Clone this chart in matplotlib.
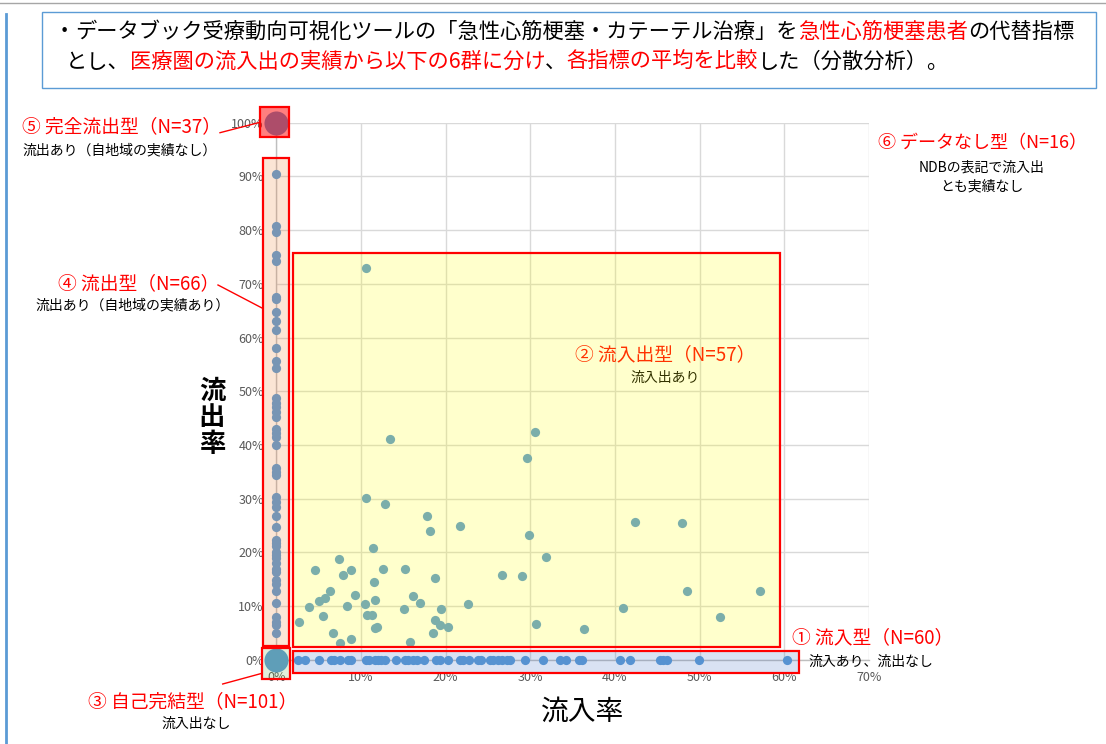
import matplotlib
matplotlib.use("Agg")
import matplotlib.pyplot as plt
from matplotlib.patches import Rectangle
from matplotlib.lines import Line2D
from matplotlib.ticker import PercentFormatter

plt.rcParams['font.family'] = ['Noto Sans CJK JP', 'DejaVu Sans']

# ---------------- data ----------------
# ① 流入型: inflow rate, outflow = 0
inflow_only_x = [2.6, 3.4, 5.1, 6.5, 6.8, 7.5, 8.5, 8.8, 10.6, 10.9, 11.7, 12.0, 12.4, 12.8,
                 14.1, 15.2, 15.6, 16.2, 16.6, 17.4, 18.9, 19.3, 20.3, 21.7, 22.1, 22.7, 23.8,
                 24.2, 25.2, 25.6, 26.2, 26.6, 27.2, 27.6, 29.4, 31.5, 33.5, 34.2, 35.7, 36.1,
                 40.6, 41.8, 45.3, 45.7, 46.2, 49.9, 60.3]
# ④ 流出型: inflow = 0, outflow rate
outflow_only_y = [90.4, 80.8, 79.7, 75.4, 74.3, 67.6, 67.1, 64.7, 63.0, 61.4, 58.0, 55.7, 54.3,
                  48.7, 47.9, 47.1, 46.2, 45.3, 42.9, 42.2, 41.4, 40.0, 35.7, 35.0, 34.4, 30.4,
                  29.4, 28.5, 26.8, 24.8, 22.3, 21.7, 21.1, 20.1, 19.5, 18.9, 18.0, 17.0, 16.4,
                  14.9, 14.2, 12.9, 10.6, 8.0, 7.1, 6.5, 4.9]
# ② 流入出型: inflow & outflow
both_x = [10.6, 12.8, 17.8, 21.7, 18.2, 29.8, 11.4, 31.8, 7.4, 4.6, 8.8, 12.6, 15.2, 7.9, 18.7,
          26.6, 29.0, 11.5, 6.3, 5.8, 5.0, 9.3, 16.2, 17.0, 11.6, 10.5, 8.4, 3.9, 15.1, 19.5,
          22.6, 5.5, 10.7, 11.3, 2.7, 18.7, 19.3, 20.3, 30.7, 11.9, 11.7, 6.7, 18.5, 8.8, 7.5,
          15.8, 13.4, 30.6, 29.6, 10.6, 42.4, 47.9, 48.5, 57.1, 41.0, 52.4, 36.3]
both_y = [30.1, 29.1, 26.8, 24.9, 24.0, 23.2, 20.8, 19.1, 18.7, 16.7, 16.7, 16.9, 16.9, 15.8, 15.3,
          15.8, 15.6, 14.4, 12.9, 11.5, 11.0, 12.0, 11.8, 10.6, 11.1, 10.4, 10.1, 9.8, 9.5, 9.5,
          10.4, 8.1, 8.3, 8.3, 7.0, 7.4, 6.4, 6.2, 6.7, 6.2, 5.9, 4.9, 4.9, 3.8, 3.1,
          3.4, 41.1, 42.4, 37.6, 72.9, 25.7, 25.4, 12.9, 12.9, 9.6, 8.0, 5.7]
# ③ 自己完結型 (0,0) and ⑤ 完全流出型 (0,100)
self_contained = (0.0, 0.0)
full_outflow = (0.0, 100.0)

x_ticks = [0, 10, 20, 30, 40, 50, 60, 70]
y_ticks = [0, 10, 20, 30, 40, 50, 60, 70, 80, 90, 100]

# ---------------- figure ----------------
W, H = 1106, 744
fig = plt.figure(figsize=(W / 100, H / 100), dpi=100)
renderer = fig.canvas.get_renderer()


def fx(x):
    return x / W


def fy(y):
    return 1 - y / H


ax = fig.add_axes([fx(276.3), fy(659.8), (869 - 276.3) / W, (659.8 - 122.8) / H])
ax.set_xlim(0, 70)
ax.set_ylim(0, 100)
ax.set_xticks(x_ticks)
ax.set_yticks(y_ticks)
ax.xaxis.set_major_formatter(PercentFormatter(decimals=0))
ax.yaxis.set_major_formatter(PercentFormatter(decimals=0))
ax.tick_params(length=0, labelsize=9, labelcolor='#595959')
ax.tick_params(axis='y', pad=9)
ax.tick_params(axis='x', pad=8)
ax.grid(True, color='#d9d9d9', linewidth=1)
ax.set_axisbelow(True)
for s in ['top', 'right']:
    ax.spines[s].set_visible(False)
for s in ['left', 'bottom']:
    ax.spines[s].set_color('#bfbfbf')
    ax.spines[s].set_linewidth(1)

blue = '#5b9bd5'
ax.scatter(inflow_only_x, [0] * len(inflow_only_x), s=44, color=blue, linewidths=0, zorder=3, clip_on=False)
ax.scatter([0] * len(outflow_only_y), outflow_only_y, s=44, color=blue, linewidths=0, zorder=3, clip_on=False)
ax.scatter(both_x, both_y, s=44, color=blue, linewidths=0, zorder=3, clip_on=False)
ax.scatter([self_contained[0]], [self_contained[1]], s=300, color=blue, linewidths=0, zorder=3, clip_on=False)
ax.scatter([full_outflow[0]], [full_outflow[1]], s=300, color=blue, linewidths=0, zorder=3, clip_on=False)

# ② label under the overlay
ax.text(fx(665), fy(355), '② 流入出型（N=57）', transform=fig.transFigure, color='#ff0000',
        fontsize=13.5, ha='center', va='center', zorder=4)
ax.text(fx(665), fy(378), '流入出あり', transform=fig.transFigure, color='#000000',
        fontsize=10, ha='center', va='center', zorder=4)


# overlay boxes (pixel coords: x0, y0, x1, y1)
def box(x0, y0, x1, y1, face, alpha):
    r = Rectangle((fx(x0), fy(y1)), fx(x1) - fx(x0), fy(y0) - fy(y1), transform=fig.transFigure,
                  facecolor=matplotlib.colors.to_rgba(face, alpha), edgecolor='#ff0000',
                  linewidth=1.6, clip_on=False, zorder=5)
    ax.add_patch(r)


box(293, 253, 780, 647, '#ffff00', 0.2)        # ②
box(263, 158, 289, 646, '#ed7d31', 0.2)        # ④
box(260, 107, 289, 137, '#ff0000', 0.5)        # ⑤
box(262, 648, 290, 679, '#70ad47', 0.2)        # ③
box(292.5, 651, 798.5, 673, '#4472c4', 0.2)    # ①

# ---------------- annotations ----------------
red = '#ff0000'
fig.text(fx(22), fy(127), '⑤ 完全流出型（N=37）', color=red, fontsize=13.5, ha='left', va='center')
fig.text(fx(22), fy(150), '流出あり（自地域の実績なし）', color='black', fontsize=10, ha='left', va='center')
fig.text(fx(58), fy(284), '④ 流出型（N=66）', color=red, fontsize=13.5, ha='left', va='center')
fig.text(fx(133), fy(305), '流出あり（自地域の実績あり）', color='black', fontsize=10, ha='center', va='center')
fig.text(fx(193), fy(702), '③ 自己完結型（N=101）', color=red, fontsize=13.5, ha='center', va='center')
fig.text(fx(196), fy(724), '流入出なし', color='black', fontsize=10, ha='center', va='center')
fig.text(fx(792), fy(638), '① 流入型（N=60）', color=red, fontsize=13.5, ha='left', va='center')
fig.text(fx(808), fy(662), '流入あり、流出なし', color='black', fontsize=10, ha='left', va='center')
fig.text(fx(982), fy(143), '⑥ データなし型（N=16）', color=red, fontsize=13, ha='center', va='center')
fig.text(fx(982), fy(168), 'NDBの表記で流入出', color='black', fontsize=10, ha='center', va='center')
fig.text(fx(982), fy(186), 'とも実績なし', color='black', fontsize=10, ha='center', va='center')

for (x0, y0), (x1, y1) in [((220, 132.7), (260, 122.3)), ((218, 285), (262, 308)),
                           ((222.7, 684), (262, 673.3))]:
    fig.add_artist(Line2D([fx(x0), fx(x1)], [fy(y0), fy(y1)], color=red, linewidth=1))

# axis titles
fig.text(fx(583), fy(712), '流入率', color='black', fontsize=20, ha='center', va='center')
fig.text(fx(212), fy(418), '流\n出\n率', color='black', fontsize=19, fontweight='bold',
         ha='center', va='center', linespacing=1.0)

# title box
fig.add_artist(Rectangle((fx(42), fy(88)), fx(1096) - fx(42), fy(12) - fy(88), transform=fig.transFigure,
                         facecolor='white', edgecolor='#5b9bd5', linewidth=1))


def rich(x, y, parts, size):
    xp = x
    for s, c in parts:
        t = fig.text(fx(xp), fy(y), s, color=c, fontsize=size, ha='left', va='center')
        bb = t.get_window_extent(renderer)
        xp = bb.x1


rich(54, 32, [('・', 'black'), ('データブック受療動向可視化ツールの「急性心筋梗塞・カテーテル治療」を', 'black'),
              ('急性心筋梗塞患者', red), ('の代替指標', 'black')], 15.3)
rich(66, 62, [('とし、', 'black'), ('医療圏の流入出の実績から以下の6群に分け', red), ('、', 'black'),
              ('各指標の平均を比較', red), ('した（分散分析）。', 'black')], 15.3)

# outer frame lines
fig.add_artist(Line2D([fx(0), fx(1106)], [fy(3), fy(3)], color='#a6a6a6', linewidth=1))
fig.add_artist(Line2D([fx(6), fx(6)], [fy(14), fy(744)], color='#5b9bd5', linewidth=2))

fig.savefig('out.png', dpi=100)
